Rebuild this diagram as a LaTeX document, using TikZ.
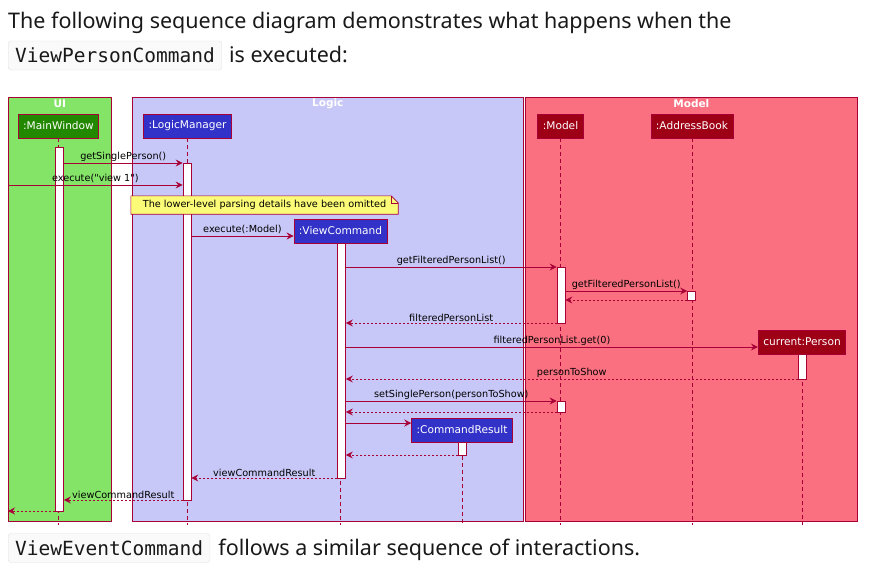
\documentclass[tikz,border=0pt]{standalone}
\usepackage{fontspec}
\setmainfont{Noto Sans}
\newfontfamily\seqfont{DejaVu Sans}
\newfontfamily\codefont{DejaVu Sans Mono}
\usetikzlibrary{arrows.meta, positioning}

\definecolor{seqred}{HTML}{A80036}
\definecolor{uifill}{HTML}{84E468}
\definecolor{logicfill}{HTML}{C8C8F8}
\definecolor{modelfill}{HTML}{FA7080}
\definecolor{uidark}{HTML}{228800}
\definecolor{logicdark}{HTML}{3232C8}
\definecolor{modeldark}{HTML}{9E0016}
\definecolor{noteyellow}{HTML}{FBFB77}

\begin{document}
\begin{tikzpicture}[
  x=1pt, y=-1pt,
  body/.style={font=\fontsize{21.5}{26}\selectfont, inner sep=0pt, text=black!90},
  code/.style={font=\codefont\fontsize{19.5}{24}\selectfont, draw=black!12, fill=black!2,
               rounded corners=3pt, inner xsep=7pt, minimum height=29pt, text=black!90},
  grp/.style={draw=seqred, line width=0.6pt, anchor=north west, inner sep=0pt},
  grptitle/.style={font=\seqfont\bfseries\fontsize{10.5}{12}\selectfont, text=white, inner sep=0pt},
  part/.style={draw=seqred, line width=0.7pt, text=white, minimum height=24pt,
               inner xsep=5pt, font=\seqfont\fontsize{10.6}{12}\selectfont},
  act/.style={draw=seqred, line width=0.7pt, fill=white, minimum width=8pt,
              inner sep=0pt, anchor=north},
  life/.style={draw=seqred, line width=0.6pt, dash pattern=on 4pt off 3pt},
  msg/.style={draw=seqred, line width=0.7pt, -{Stealth[length=7pt, width=7pt, inset=2.5pt]}},
  ret/.style={msg, dash pattern=on 2pt off 2pt},
  lbl/.style={above, inner sep=1.5pt, text=black, font=\seqfont\fontsize{9.7}{11}\selectfont},
  note/.style={fill=noteyellow, minimum width=267pt, minimum height=18pt, inner sep=0pt,
               font=\seqfont\fontsize{9.7}{11}\selectfont},
]
\useasboundingbox (0,0) rectangle (881,571);

%% text above and below
\node[body, anchor=base west] (intro) at (8,28)
  {The following sequence diagram demonstrates what happens when the};
\node[code, anchor=west] (cmdA) at (8,55.5) {ViewPersonCommand};
\node[body, anchor=base west] (intro2) at ([xshift=7pt]cmdA.base east) {is executed:};
\node[code, anchor=west] (cmdB) at (8,548) {ViewEventCommand};
\node[body, anchor=base west] (outro) at ([xshift=8pt]cmdB.base east)
  {follows a similar sequence of interactions.};

%% groups
\node[grp, fill=uifill, minimum width=103pt, minimum height=424pt] (ui) at (8,97) {};
\node[grp, fill=logicfill, minimum width=391pt, minimum height=424pt] (logic) at (132,97) {};
\node[grp, fill=modelfill, minimum width=332pt, minimum height=424pt] (model) at (525,97) {};
\node[grptitle] at (ui.north |- 0,104) {UI};
\node[grptitle] at (logic.north |- 0,104) {Logic};
\node[grptitle] at (model.north |- 0,104) {Model};

%% participants
\node[part, fill=uidark] (mw) at (58.5,126) {:MainWindow};
\node[part, fill=logicdark] (lm) at (187.5,126) {:LogicManager};
\node[part, fill=logicdark] (vc) at (340.5,231) {:ViewCommand};
\node[part, fill=modeldark] (md) at (560.5,126) {:Model};
\node[part, fill=modeldark] (ab) at (692,126) {:AddressBook};
\node[part, fill=modeldark] (cp) at (802,342) {current:Person};
\node[part, fill=logicdark] (cr) at (462,430) {:CommandResult};

%% lifelines
\coordinate (bot) at (0,525);
\coordinate (edge) at (8,0);
\foreach \p in {mw, lm, vc, md, ab, cp, cr}
  \draw[life] (\p.south) -- (\p.south |- bot);

%% activations
\node[act, minimum height=364pt] (mwA) at (59.5,147) {};
\node[act, minimum height=337pt] (lmA) at (187,163) {};
\node[act, minimum height=235pt] (vcA) at (341.5,243) {};
\node[act, minimum height=56pt] (mdA) at (561,267) {};
\node[act, minimum height=9pt] (abA) at (691.5,291) {};
\node[act, minimum height=11pt] (mdB) at (561,401) {};
\node[act, minimum height=25pt] (cpA) at (802,354) {};
\node[act, minimum height=13pt] (crA) at (462.5,442) {};

%% note
\node[note] (nt) at (264.5,205) {The lower-level parsing details have been omitted};
\fill[logicfill] ([xshift=-7pt]nt.north east) -- (nt.north east) -- ([yshift=-7pt]nt.north east) -- cycle;
\draw[seqred, line width=0.6pt] (nt.north west) -- ([xshift=-7pt]nt.north east)
  -- ([yshift=-7pt]nt.north east) -- (nt.south east) -- (nt.south west) -- cycle;
\draw[seqred, line width=0.6pt] ([xshift=-7pt]nt.north east) |- ([yshift=-7pt]nt.north east);

%% messages
\draw[msg] (mwA.east |- 0,163) -- node[lbl] {getSinglePerson()} (lmA.west |- 0,163);
\draw[msg] (edge |- 0,185) -- node[lbl] {execute("view 1")} (lmA.west |- 0,185);
\draw[msg] (lmA.east |- 0,236) -- node[lbl] {execute(:Model)} (vc.west |- 0,236);
\draw[msg] (vcA.east |- 0,267) -- node[lbl] {getFilteredPersonList()} (mdA.west |- 0,267);
\draw[msg] (mdA.east |- 0,291) -- node[lbl] {getFilteredPersonList()} (abA.west |- 0,291);
\draw[ret] (abA.west |- 0,300) -- (mdA.east |- 0,300);
\draw[ret] (mdA.west |- 0,323) -- node[lbl] {filteredPersonList} (vcA.east |- 0,323);
\draw[msg] (vcA.east |- 0,347) -- node[lbl] {filteredPersonList.get(0)} (cp.west |- 0,347);
\draw[ret] (cpA.west |- 0,379) -- node[lbl] {personToShow} (vcA.east |- 0,379);
\draw[msg] (vcA.east |- 0,401) -- node[lbl] {setSinglePerson(personToShow)} (mdB.west |- 0,401);
\draw[ret] (mdB.west |- 0,412) -- (vcA.east |- 0,412);
\draw[msg] (vcA.east |- 0,423) -- (cr.west |- 0,423);
\draw[ret] (crA.west |- 0,455) -- (vcA.east |- 0,455);
\draw[ret] (vcA.west |- 0,478) -- node[lbl] {viewCommandResult} (lmA.east |- 0,478);
\draw[ret] (lmA.west |- 0,500) -- node[lbl] {viewCommandResult} (mwA.east |- 0,500);
\draw[ret] (mwA.west |- 0,511) -- (edge |- 0,511);
\end{tikzpicture}
\end{document}
